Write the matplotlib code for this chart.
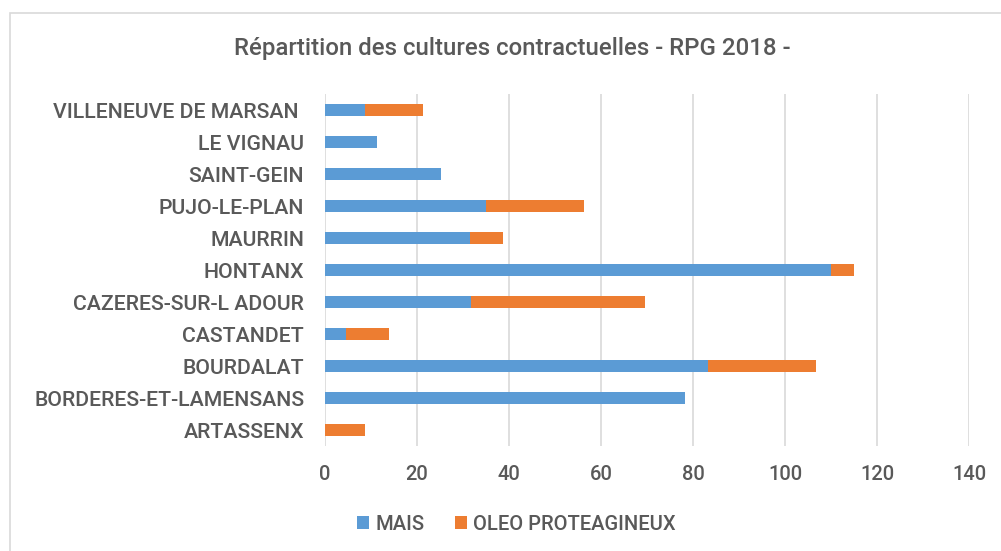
import matplotlib.pyplot as plt
from matplotlib.patches import Rectangle

communes = ["ARTASSENX", "BORDERES-ET-LAMENSANS", "BOURDALAT", "CASTANDET",
            "CAZERES-SUR-L ADOUR", "HONTANX", "MAURRIN", "PUJO-LE-PLAN",
            "SAINT-GEIN", "LE VIGNAU", "VILLENEUVE DE MARSAN "]
mais = [0, 78.2, 83.3, 4.5, 31.7, 110.1, 31.5, 35.0, 25.2, 11.3, 8.6]
oleo = [8.8, 0, 23.4, 9.5, 37.9, 5.0, 7.2, 21.4, 0, 0, 12.7]
x_ticks = [0, 20, 40, 60, 80, 100, 120, 140]

blue = '#5B9BD5'
orange = '#ED7D31'
text_col = '#595959'
plt.rcParams['font.family'] = ['Roboto', 'DejaVu Sans']
plt.rcParams['font.weight'] = 'medium'

fig = plt.figure(figsize=(10.01, 5.51), dpi=100)
ax = fig.add_axes([325 / 1001, 105 / 551, 644 / 1001, 352 / 551])

ypos = list(range(len(communes)))
ax.barh(ypos, mais, height=0.4, color=blue, label='MAIS', zorder=3)
ax.barh(ypos, oleo, left=mais, height=0.4, color=orange,
        label='OLEO PROTEAGINEUX', zorder=3)

ax.set_xlim(0, 140)
ax.set_ylim(-0.5, len(communes) - 0.5)
ax.set_xticks(x_ticks)
ax.set_yticks(ypos)
ax.set_yticklabels(communes)
ax.tick_params(axis='both', length=0, colors=text_col)
ax.tick_params(axis='x', pad=14, labelsize=14.5)
ax.tick_params(axis='y', pad=15, labelsize=15.3)
ax.grid(axis='x', color='#D9D9D9', linewidth=1.2, zorder=0)
for s in ax.spines.values():
    s.set_visible(False)

fig.text(0.512, 1 - 48 / 551, "Répartition des cultures contractuelles - RPG 2018 -",
         ha='center', va='center', fontsize=17.3, color=text_col)

leg = fig.legend(loc='center', bbox_to_anchor=(0.516, 1 - 524 / 551), ncol=2,
                 frameon=False, fontsize=14.5, handlelength=0.6, handleheight=0.6,
                 handletextpad=0.3, columnspacing=1.5)
for t in leg.get_texts():
    t.set_color(text_col)

fig.patches.append(Rectangle((10 / 1001, -0.1), 1.2, 1 - 12.5 / 551 + 0.1,
                             transform=fig.transFigure, fill=False,
                             edgecolor='#D9D9D9', linewidth=1.2))

fig.savefig('out.png', dpi=100)
